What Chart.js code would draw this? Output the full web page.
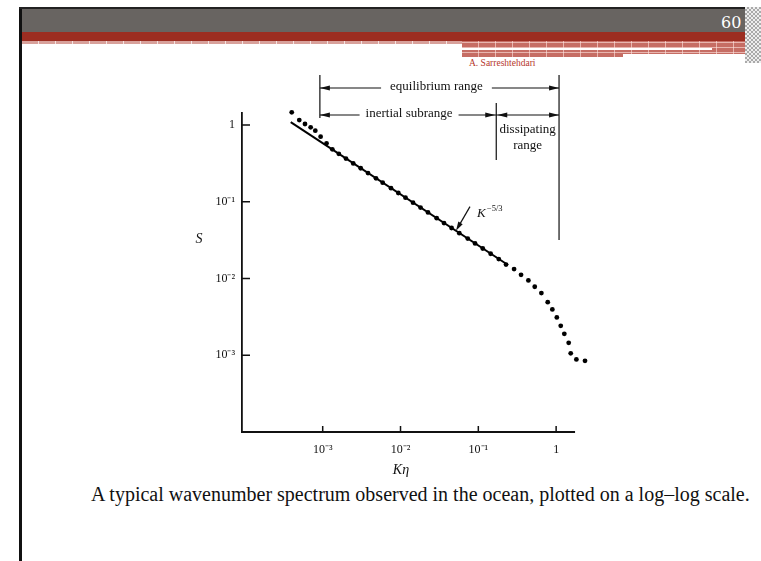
<!DOCTYPE html>
<html>
<head>
<meta charset="utf-8">
<script src="https://cdn.jsdelivr.net/npm/chart.js@4.4.1/dist/chart.umd.min.js"></script>
<style>
  body { margin: 0; width: 761px; height: 561px; background: #fff; overflow: hidden; position: relative; font-family: 'Liberation Serif', serif; }
  .blk { position: absolute; }
  .frame-left { left: 19px; top: 7px; width: 3px; height: 554px; background: #111; }
  .frame-top { left: 19px; top: 7px; width: 742px; height: 2px; background: #222; }
  .band-gray { left: 22px; top: 9px; width: 723px; height: 23px; background: #686461; }
  .band-red { left: 22px; top: 32px; width: 723px; height: 9px; background: #9c2d21; }
  .band-check { left: 22px; top: 41px; width: 440px; height: 3px; background-color: #d8a19b;
    background-image: repeating-linear-gradient(90deg, transparent 0 16px, rgba(255,255,255,0.7) 16px 17px); }
  .right-block { left: 462px; top: 41px; width: 283px; height: 16px; background-color: #c66d64;
    background-image: repeating-linear-gradient(90deg, transparent 0 16px, rgba(255,230,225,0.6) 16px 17px),
                      repeating-linear-gradient(0deg, transparent 0 4px, rgba(255,230,225,0.6) 4px 5px); }
  .white-line { left: 462px; top: 48px; width: 250px; height: 2px; background: #fff; }
  .white-step { left: 623px; top: 54px; width: 122px; height: 3px; background: #fff; }
  .edge { left: 745px; top: 7px; width: 16px; height: 56px;
    background: repeating-conic-gradient(#aaa 0 25%, #eee 0 50%) 0 0 / 4px 4px; }
  .page-num { left: 721px; top: 13px; color: #fff; font-family: 'DejaVu Serif', serif; font-size: 16px; }
  .author { left: 469px; top: 58px; color: #b5372c; font-size: 9.5px; }
  .caption { left: 91px; top: 483px; font-size: 20px; color: #111; white-space: nowrap; }
  canvas { position: absolute; left: 0; top: 0; }
</style>
</head>
<body>
<div class="blk frame-left"></div>
<div class="blk frame-top"></div>
<div class="blk band-gray"></div>
<div class="blk band-red"></div>
<div class="blk band-check"></div>
<div class="blk right-block"></div>
<div class="blk white-line"></div>
<div class="blk white-step"></div>
<div class="blk edge"></div>
<div class="blk page-num">60</div>
<div class="blk author">A. Sarreshtehdari</div>
<div class="blk caption">A typical wavenumber spectrum observed in the ocean, plotted on a log–log scale.</div>
<canvas id="spectrumChart" width="761" height="561"></canvas>
<script>
// measured spectrum (dots)
const kEta = [4.0e-4, 5.0e-4, 5.92e-4, 7.0e-4, 8.03e-4, 9.4e-4, 1.12e-3, 1.33e-3, 1.61e-3, 1.99e-3,
  2.47e-3, 3.08e-3, 3.82e-3, 4.84e-3, 5.90e-3, 7.55e-3, 9.37e-3, 0.01159, 0.01449, 0.01808,
  0.02255, 0.02917, 0.0362, 0.0453, 0.0570, 0.0731, 0.0908, 0.114, 0.144, 0.183,
  0.227, 0.288, 0.354, 0.440, 0.531, 0.646, 0.780, 0.894, 1.02, 1.146,
  1.274, 1.45, 1.54, 1.82, 2.35];
const spectrum = [1.46, 1.16, 1.03, 0.933, 0.843, 0.704, 0.577, 0.482, 0.421, 0.365,
  0.316, 0.273, 0.236, 0.202, 0.177, 0.150, 0.130, 0.113, 0.0973, 0.0840,
  0.0725, 0.0610, 0.0528, 0.0455, 0.0390, 0.0331, 0.0286, 0.0246, 0.0210, 0.0179,
  0.0152, 0.01327, 0.01117, 0.00944, 0.00780, 0.00645, 0.00492, 0.00395, 0.00311, 0.00242,
  0.00190, 0.00145, 0.00106, 0.000881, 0.000845];

// K^-5/3 reference line, end points
const slopeX = [3.88e-4, 0.241];
const slopeY = [1.09, 0.0150];

const xTicks = [1e-3, 1e-2, 1e-1, 1];
const xTickLabels = ['10⁻³', '10⁻²', '10⁻¹', '1'];
const yTicks = [1, 0.1, 0.01, 0.001];
const yTickLabels = ['1', '10⁻¹', '10⁻²', '10⁻³'];
const xAxisEnd = 1.75;

// start of inertial subrange, start of dissipating range, end of equilibrium range
const rangeEdges = [9.2e-4, 0.17, 1.09];
const slopeLabelAt = [0.0516, 0.042];

const serif = "'Liberation Serif', 'Times New Roman', serif";

function arrowHead(ctx, x, y, dir) {
  ctx.beginPath();
  ctx.moveTo(x, y);
  ctx.lineTo(x - dir * 10, y - 2.5);
  ctx.lineTo(x - dir * 10, y + 2.5);
  ctx.closePath();
  ctx.fill();
}

const overlay = {
  id: 'overlay',
  afterDraw(chart) {
    const { ctx, scales: { x, y } } = chart;
    const axisY = y.getPixelForValue(y.min);
    const axisX = x.getPixelForValue(x.min);
    ctx.save();
    ctx.strokeStyle = '#111';
    ctx.fillStyle = '#111';

    // x axis line stops a little past the last decade
    ctx.lineWidth = 1.8;
    ctx.beginPath();
    ctx.moveTo(axisX - 0.9, axisY);
    ctx.lineTo(x.getPixelForValue(xAxisEnd), axisY);
    ctx.stroke();

    // inward tick marks
    ctx.lineWidth = 1.5;
    ctx.beginPath();
    yTicks.forEach((v) => {
      const py = y.getPixelForValue(v);
      ctx.moveTo(axisX, py);
      ctx.lineTo(axisX + 8, py);
    });
    xTicks.forEach((v) => {
      const px = x.getPixelForValue(v);
      ctx.moveTo(px, axisY);
      ctx.lineTo(px, axisY - 6);
    });
    ctx.stroke();

    // axis titles
    ctx.font = 'italic 14px ' + serif;
    ctx.textAlign = 'center';
    ctx.textBaseline = 'middle';
    ctx.fillText('S', 199, 239);
    ctx.fillText('Kη', 401, 470);

    // range annotations
    const [xL, xM, xR] = rangeEdges.map((v) => x.getPixelForValue(v));
    ctx.lineWidth = 1.2;
    ctx.beginPath();
    ctx.moveTo(xL, 75); ctx.lineTo(xL, 118);
    ctx.moveTo(xM, 103); ctx.lineTo(xM, 160);
    ctx.moveTo(xR, 75); ctx.lineTo(xR, 240);
    ctx.stroke();

    ctx.font = '13px ' + serif;
    const row1 = 88;
    const mid1 = (xL + xR) / 2 - 3;
    const w1 = ctx.measureText('equilibrium range').width / 2 + 9;
    ctx.fillText('equilibrium range', mid1, row1 - 1);
    ctx.beginPath();
    ctx.moveTo(xL, row1); ctx.lineTo(mid1 - w1, row1);
    ctx.moveTo(mid1 + w1, row1); ctx.lineTo(xR, row1);
    ctx.stroke();
    arrowHead(ctx, xL, row1, -1);
    arrowHead(ctx, xR, row1, 1);

    const row2 = 115;
    const mid2 = (xL + xM) / 2 + 1;
    const w2 = ctx.measureText('inertial subrange').width / 2 + 6;
    ctx.fillText('inertial subrange', mid2, row2 - 1);
    ctx.beginPath();
    ctx.moveTo(xL, row2); ctx.lineTo(mid2 - w2, row2);
    ctx.moveTo(mid2 + w2, row2); ctx.lineTo(xM, row2);
    ctx.moveTo(xM, row2); ctx.lineTo(xR, row2);
    ctx.stroke();
    arrowHead(ctx, xL, row2, -1);
    arrowHead(ctx, xM - 1, row2, 1);
    arrowHead(ctx, xM + 1, row2, -1);
    arrowHead(ctx, xR, row2, 1);
    const mid3 = (xM + xR) / 2;
    ctx.fillText('dissipating', mid3, 130);
    ctx.fillText('range', mid3, 146);

    // K^-5/3 label with pointer
    const tx = x.getPixelForValue(slopeLabelAt[0]);
    const ty = y.getPixelForValue(slopeLabelAt[1]);
    ctx.beginPath();
    ctx.moveTo(tx + 14, ty - 24);
    ctx.lineTo(tx + 3, ty - 5);
    ctx.stroke();
    ctx.save();
    ctx.translate(tx, ty);
    ctx.rotate(Math.atan2(24, -14));
    ctx.beginPath();
    ctx.moveTo(0, 0);
    ctx.lineTo(-9, -2.5);
    ctx.lineTo(-9, 2.5);
    ctx.closePath();
    ctx.fill();
    ctx.restore();
    ctx.textAlign = 'left';
    ctx.textBaseline = 'alphabetic';
    ctx.font = 'italic 13px ' + serif;
    ctx.fillText('K', tx + 21, ty - 14);
    ctx.font = '8.5px ' + serif;
    ctx.fillText('−5/3', tx + 31, ty - 20);
    ctx.restore();
  },
};

function buildChart() {
  const ctx = document.getElementById('spectrumChart');
  new Chart(ctx, {
    type: 'scatter',
    data: {
      datasets: [{
        label: 'Spectrum',
        data: kEta.map((k, i) => ({ x: k, y: spectrum[i] })),
        pointRadius: 2.4,
        pointBackgroundColor: '#000',
        pointBorderWidth: 0,
        clip: false,
      }, {
        label: 'K^-5/3',
        data: slopeX.map((k, i) => ({ x: k, y: slopeY[i] })),
        showLine: true,
        borderColor: '#000',
        borderWidth: 2,
        pointRadius: 0,
        clip: false,
      }],
    },
    options: {
      responsive: false,
      animation: false,
      devicePixelRatio: 1,
      layout: { padding: { left: 0, right: 173.9, top: 112.6, bottom: 89 } },
      plugins: { legend: { display: false }, tooltip: { enabled: false } },
      scales: {
        x: {
          type: 'logarithmic',
          min: 9.18e-5,
          max: 2.5,
          afterFit: (axis) => { axis.height = 40; },
          afterBuildTicks: (axis) => { axis.ticks = xTicks.map((v) => ({ value: v })); },
          ticks: {
            autoSkip: false,
            maxRotation: 0,
            padding: 11,
            color: '#111',
            font: { family: serif, size: 12 },
            callback: (v) => xTickLabels[xTicks.indexOf(v)],
          },
          grid: { display: false, drawTicks: false },
          border: { display: false },
        },
        y: {
          type: 'logarithmic',
          min: 1e-4,
          max: 1.45,
          afterFit: (axis) => { axis.width = 242; },
          afterBuildTicks: (axis) => { axis.ticks = yTicks.map((v) => ({ value: v })); },
          ticks: {
            autoSkip: false,
            padding: 7,
            color: '#111',
            font: { family: serif, size: 12 },
            callback: (v) => yTickLabels[yTicks.indexOf(v)],
          },
          grid: { display: false, drawTicks: false },
          border: { display: true, color: '#111', width: 1.8 },
        },
      },
    },
    plugins: [overlay],
  });
}

document.addEventListener('DOMContentLoaded', buildChart);
</script>
</body>
</html>
